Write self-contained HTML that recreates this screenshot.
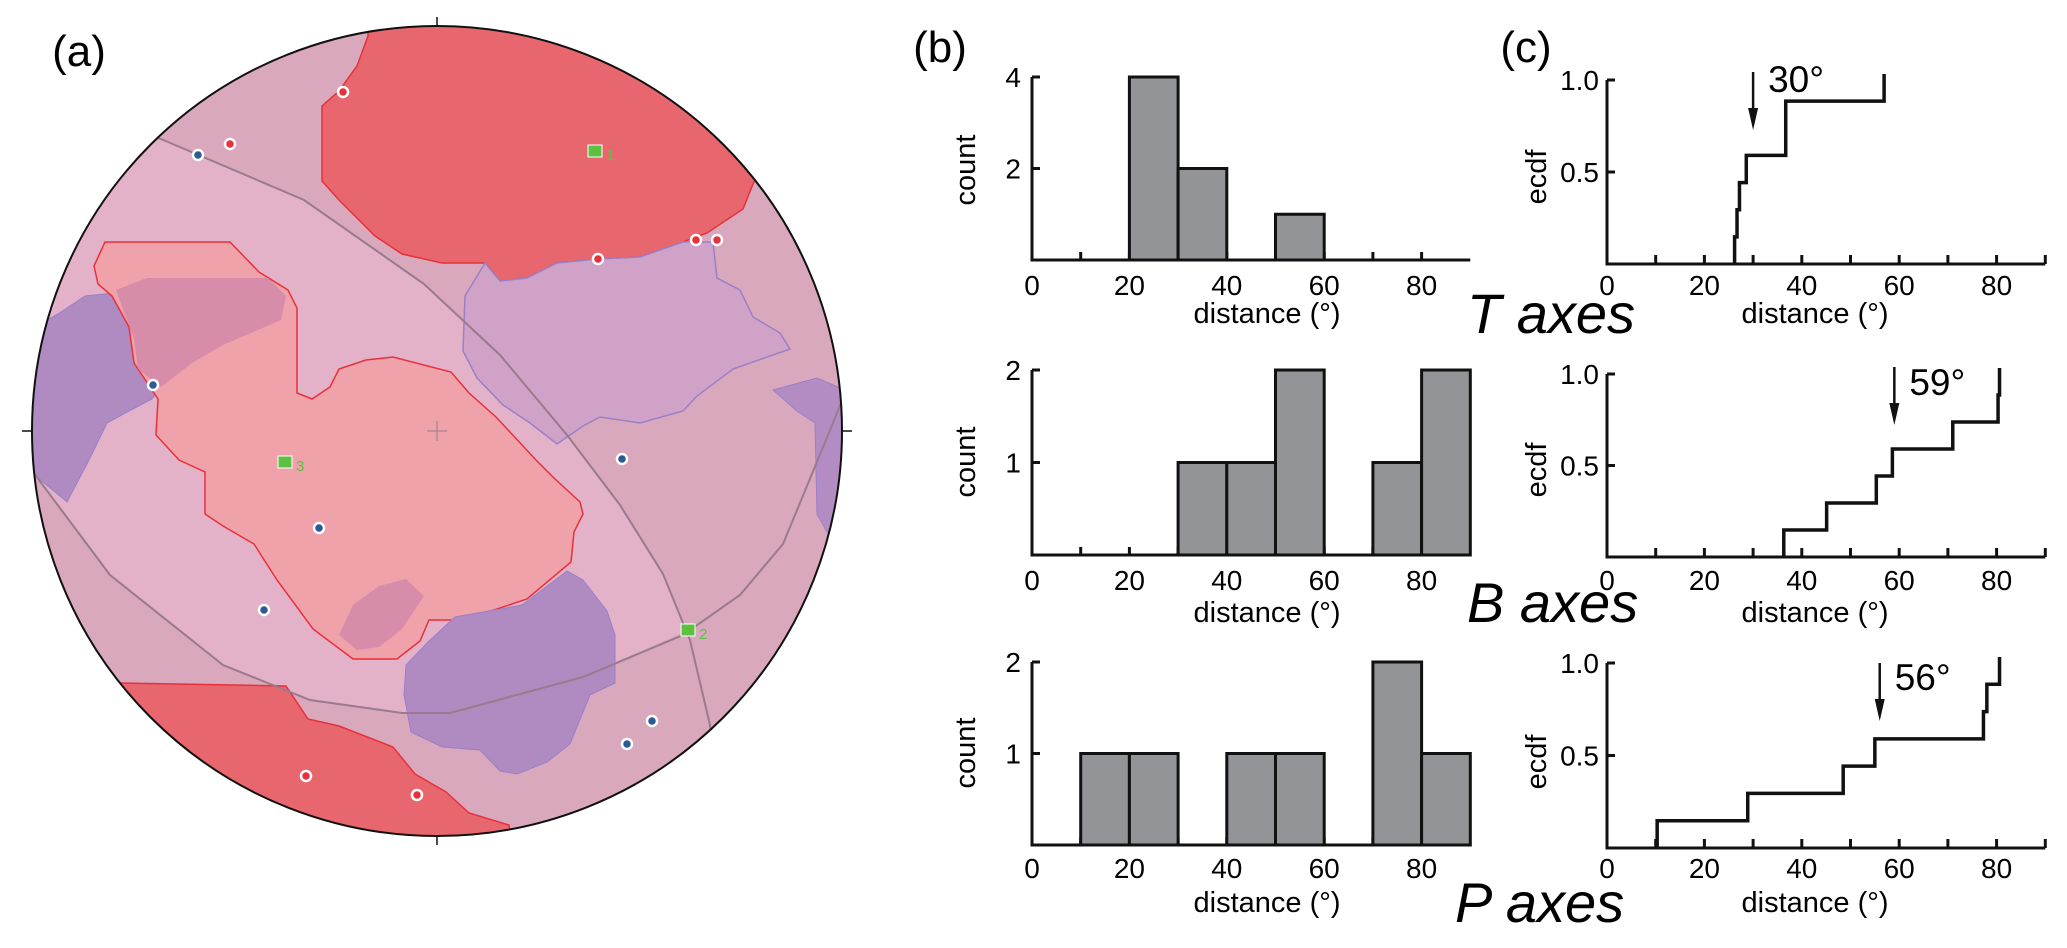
<!DOCTYPE html>
<html><head><meta charset="utf-8">
<style>
html,body{margin:0;padding:0;background:#fff;}
svg{display:block;font-family:"Liberation Sans",sans-serif;}
</style></head>
<body>
<svg id="fig" width="2067" height="948" viewBox="0 0 2067 948" xmlns="http://www.w3.org/2000/svg">
<defs>
<clipPath id="cc"><circle cx="437" cy="431" r="405"/></clipPath>
</defs>
<g>
<text x="79" y="66" font-size="44" text-anchor="middle">(a)</text>
<g clip-path="url(#cc)">
<circle cx="437" cy="431" r="405" fill="#d9a8bd"/>
<path d="M100,118 L161,139 L304,200 L424,284 L500,355 L567,435 L620,505 L663,574 L688,630 L583,677 L450,713 L402,713 L310,700 L223,665 L110,575 L33,472 L0,455 L0,100 Z" fill="#e3b2c8"/>
<polygon fill="#e8676f" stroke="#e8303a" stroke-width="1.5" points="368,-10 368,36 357,66 339,91 322,106 322,181 339,200 375,236 402,254 442,263 485,263 500,281 527,278 557,263 598,259 640,257 683,242 707,233 743,209 753,184 800,100 700,-10"/>
<polygon fill="#d1a2c8" stroke="#9a80c8" stroke-width="1.5" points="485,263 465,296 463,351 477,378 503,405 530,423 557,444 583,426 600,417 640,423 683,411 697,396 733,369 790,349 780,333 753,317 740,290 717,278 713,242 683,242 640,257 598,259 557,263 527,278 500,281"/>
<polygon fill="#b48cc4" stroke="#9a80c8" stroke-width="1" points="773,390 817,378 838,387 860,390 860,540 827,532 817,514 815,423 797,411"/>
<polygon fill="#b08bc2" stroke="#9a80c8" stroke-width="1" points="0,330 36,326 58,314 85,296 114,293 129,320 134,351 147,369 161,387 152,399 129,411 107,423 89,460 67,502 31,472 0,470"/>
<polygon fill="#f0a2aa" stroke="#e8303a" stroke-width="1.5" points="105,242 230,242 259,272 288,290 297,308 297,393 312,399 330,387 339,369 366,360 393,357 451,372 469,393 496,417 536,460 554,478 580,502 583,514 574,532 571,562 527,599 491,611 469,620 429,620 420,641 397,659 353,659 313,629 277,580 254,544 223,526 205,514 205,472 179,460 156,435 158,399 134,363 129,327 112,296 98,284 94,266"/>
<polygon fill="#d48aa8" opacity="0.9" points="116,290 147,278 268,278 286,296 281,320 223,345 192,363 161,387 138,369 134,339"/>
<polygon fill="#d48aa8" opacity="0.9" points="339,635 353,605 379,586 406,579 424,596 402,629 379,647 357,650"/>
<polygon fill="#b08bc2" stroke="#9a80c8" stroke-width="1" points="406,665 429,641 455,617 522,605 567,571 583,580 607,611 615,635 615,683 590,695 570,744 547,762 517,774 500,771 480,750 442,747 411,732 404,695"/>
<polygon fill="#e8676f" stroke="#e8303a" stroke-width="1.5" points="0,683 121,683 286,686 308,719 339,726 393,747 415,774 446,792 469,813 509,825 520,900 0,900"/>
<polyline fill="none" stroke="#9a7a8c" stroke-width="2" points="100,118 161,139 304,200 424,284 500,355 567,435 620,505 663,574 690,640 710,725 720,850"/>
<polyline fill="none" stroke="#9a7a8c" stroke-width="2" points="20,455 33,472 110,575 223,665 310,700 402,713 450,713 583,677 683,635 740,595 783,544 833,423 850,380"/>
<line x1="427" y1="431" x2="447" y2="431" stroke="#9a7a8c" stroke-width="1"/>
<line x1="437" y1="421" x2="437" y2="441" stroke="#9a7a8c" stroke-width="1"/>
</g>
<circle cx="437" cy="431" r="405" fill="none" stroke="#111" stroke-width="2"/>
<g stroke="#111" stroke-width="1.5">
<line x1="437" y1="17" x2="437" y2="27"/><line x1="437" y1="835" x2="437" y2="845"/>
<line x1="22" y1="431" x2="32" y2="431"/><line x1="842" y1="431" x2="852" y2="431"/>
</g>
<g fill="#e8303a" stroke="#fff" stroke-width="2.5">
<circle cx="343" cy="92" r="5"/><circle cx="230" cy="144" r="5"/><circle cx="598" cy="259" r="5"/>
<circle cx="696" cy="240" r="5"/><circle cx="717" cy="240" r="5"/><circle cx="306" cy="776" r="5"/><circle cx="417" cy="795" r="5"/>
</g>
<g fill="#2d5a96" stroke="#fff" stroke-width="2.5">
<circle cx="198" cy="155" r="5"/><circle cx="153" cy="385" r="5"/><circle cx="319" cy="528" r="5"/><circle cx="264" cy="610" r="5"/>
<circle cx="622" cy="459" r="5"/><circle cx="652" cy="721" r="5"/><circle cx="627" cy="744" r="5"/>
</g>
<g font-size="15" fill="#5cc040">
<rect x="588" y="145" width="14" height="12" stroke="#fff" stroke-width="1"/><text x="606" y="160">1</text>
<rect x="278" y="456" width="14" height="12" stroke="#fff" stroke-width="1"/><text x="296" y="471">3</text>
<rect x="681" y="624" width="14" height="12" stroke="#fff" stroke-width="1"/><text x="699" y="639">2</text>
</g>
</g>
<text x="940" y="62" font-size="44" text-anchor="middle">(b)</text>
<text x="1526" y="62" font-size="44" text-anchor="middle">(c)</text>
<g id="charts"></g>
</svg>
<script>
// histogram counts per 10-degree bin (0-10 ... 80-90)
const binStarts = [0,10,20,30,40,50,60,70,80];
const countsT = [0,0,4,2,0,1,0,0,0];
const countsB = [0,0,0,1,1,2,0,1,2];
const countsP = [0,1,1,0,1,1,0,2,1];
const histTicksT = [2,4];
const histTicksB = [1,2];
const histTicksP = [1,2];
// ecdf sorted distances
const distT = [26.2,26.7,27.2,28.6,36.7,36.7,56.9];
const distB = [36.3,45.1,55.3,58.6,71,80.3,80.6];
const distP = [10.3,28.9,48.5,55,77.3,78,80.6];
const medians = [30,59,56];
const medianLabels = ["30°","59°","56°"];
const xTickLabels = [0,20,40,60,80];
const ecdfTickLabels = ["0.5","1.0"];
const ecdfTickValues = [0.5,1.0];
const axesNames = ["T","B","P"];

const NS = "http://www.w3.org/2000/svg";
const root = document.getElementById('charts');
function mk(tag, attrs, parent, text){
  const e = document.createElementNS(NS, tag);
  for (const k in attrs) e.setAttribute(k, attrs[k]);
  if (text !== undefined) e.textContent = text;
  (parent||root).appendChild(e);
  return e;
}
const PX = 4.87;
const rows = [
  {counts:countsT, ticks:histTicksT, dist:distT, hb:260, hTop:77, hMax:4, eb:264, e1:80, lab:285, dl:313, cy:170, ey:177, nameX:1467, nameY:333, medY:92, arrTop:72},
  {counts:countsB, ticks:histTicksB, dist:distB, hb:555, hTop:370, hMax:2, eb:557, e1:374, lab:580, dl:612, cy:462, ey:470, nameX:1467, nameY:622, medY:395, arrTop:367},
  {counts:countsP, ticks:histTicksP, dist:distP, hb:845, hTop:662, hMax:2, eb:848, e1:663, lab:868, dl:902, cy:753, ey:762, nameX:1455, nameY:922, medY:690, arrTop:663}
];
rows.forEach((r, ri) => {
  const hx = v => 1032 + v*PX;
  const hy = c => r.hb - c*(r.hb - r.hTop)/r.hMax;
  const ex = v => 1607 + v*PX;
  const ey = v => r.eb - v*(r.eb - r.e1 + 6);
  const g = mk('g', {});
  
  
  for (let t = 10; t <= 80; t += 10) {
    const tk = mk('line', {x1:hx(t), x2:hx(t), y1:r.hb, y2:r.hb-8, stroke:'#111', 'stroke-width':3}, g);
    
    
  }
  r.counts.forEach((c, i) => {
    if (c <= 0) return;
    const b = mk('rect', {x:hx(binStarts[i]), y:hy(c), width:hx(binStarts[i]+10)-hx(binStarts[i]), height:r.hb-hy(c), fill:'#939498', stroke:'#111', 'stroke-width':3}, g);
    
    
  });
  const ax = mk('path', {d:`M${hx(0)},${r.hTop} V${r.hb} H${hx(90)}`, fill:'none', stroke:'#111', 'stroke-width':3}, g);
  
  
  r.ticks.forEach(t => {
    mk('line', {x1:hx(0), x2:hx(0)+8, y1:hy(t), y2:hy(t), stroke:'#111', 'stroke-width':3}, g);
    const tl = mk('text', {x:1021, y:hy(t)+10, 'font-size':28, 'text-anchor':'end'}, g, String(t));
    
    
  });
  xTickLabels.forEach(t => {
    const tl = mk('text', {x:hx(t), y:r.lab+10, 'font-size':28, 'text-anchor':'middle'}, g, String(t));
    
    
  });
  const xl = mk('text', {x:1267, y:r.dl+10, 'font-size':29, 'text-anchor':'middle'}, g, 'distance (°)');
  
  
  const yl = mk('text', {x:0, y:0, 'font-size':29, 'text-anchor':'middle', transform:`translate(975,${r.cy}) rotate(-90)`}, g, 'count');
  
  
  const nm = mk('text', {x:r.nameX, y:r.nameY, 'font-size':56, 'font-style':'italic'}, g, axesNames[ri] + ' axes');
  
  

  const e = mk('g', {});
  
  
  for (let t = 10; t <= 90; t += 10) {
    const tk = mk('line', {x1:ex(t), x2:ex(t), y1:r.eb, y2:r.eb-9, stroke:'#111', 'stroke-width':3}, e);
    
    
  }
  const eax = mk('path', {d:`M${ex(0)},${r.e1} V${r.eb} H${ex(90)}`, fill:'none', stroke:'#111', 'stroke-width':3}, e);
  
  
  ecdfTickValues.forEach((v, i) => {
    const yy = r.eb - v*(r.eb - r.e1);
    mk('line', {x1:ex(0), x2:ex(0)+8, y1:yy, y2:yy, stroke:'#111', 'stroke-width':3}, e);
    const tl = mk('text', {x:1599, y:yy+10, 'font-size':28, 'text-anchor':'end'}, e, ecdfTickLabels[i]);
    
    
  });
  xTickLabels.forEach(t => {
    const tl = mk('text', {x:ex(t), y:r.lab+10, 'font-size':28, 'text-anchor':'middle'}, e, String(t));
    
    
  });
  const exl = mk('text', {x:1815, y:r.dl+10, 'font-size':29, 'text-anchor':'middle'}, e, 'distance (°)');
  
  
  const eyl = mk('text', {x:0, y:0, 'font-size':29, 'text-anchor':'middle', transform:`translate(1546,${r.ey}) rotate(-90)`}, e, 'ecdf');
  
  
  const n = r.dist.length;
  let d = `M${ex(r.dist[0])},${r.eb}`;
  for (let i = 0; i < n; i++) {
    d += ` V${ey((i+1)/n)}`;
    if (i < n-1) d += ` H${ex(r.dist[i+1])}`;
  }
  const st = mk('path', {d:d, fill:'none', stroke:'#111', 'stroke-width':3.5}, e);
  
  
  const axv = ex(medians[ri]);
  const arr = mk('g', {}, e);
  
  
  mk('line', {x1:axv, x2:axv, y1:r.arrTop, y2:r.arrTop+40, stroke:'#111', 'stroke-width':2.5}, arr);
  mk('polygon', {points:`${axv-5},${r.arrTop+36} ${axv+5},${r.arrTop+36} ${axv},${r.arrTop+58}`, fill:'#111'}, arr);
  const ml = mk('text', {x:axv+15, y:r.medY, 'font-size':37}, e, medianLabels[ri]);
  
  
});
</script>
</body></html>
